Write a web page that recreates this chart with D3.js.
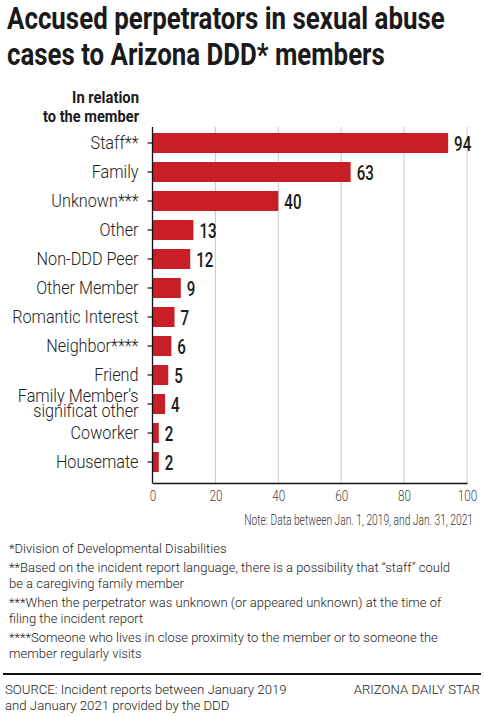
<!DOCTYPE html>
<html><head><meta charset="utf-8">
<script src="https://cdn.jsdelivr.net/npm/d3@7"></script>
<style>
html,body{margin:0;padding:0;background:#fff;}
svg{display:block;}
</style></head>
<body>
<script>
const categories = ["Staff**","Family","Unknown***","Other","Non-DDD Peer","Other Member","Romantic Interest","Neighbor****","Friend","Family Member\u2019s\nsignificat other","Coworker","Housemate"];
const values = [94,63,40,13,12,9,7,6,5,4,2,2];
const xTicks = [0,20,40,60,80,100];
const titleLines = ["Accused perpetrators in sexual abuse","cases to Arizona DDD* members"];
const axisTitle = ["In relation","to the member"];
const note = "Note: Data between Jan. 1, 2019, and Jan. 31, 2021";
const footnotes = [
  ["*Division of Developmental Disabilities"],
  ["**Based on the incident report language, there is a possibility that \u201cstaff\u201d could","be a caregiving family member"],
  ["***When the perpetrator was unknown (or appeared unknown) at the time of","filing the incident report"],
  ["****Someone who lives in close proximity to the member or to someone the","member regularly visits"]
];
const source = ["SOURCE: Incident reports between January 2019","and January 2021 provided by the DDD"];
const credit = "ARIZONA DAILY STAR";

const W = 484, H = 717;
const font = "Roboto,'Noto Sans',sans-serif";
const svg = d3.select("body").append("svg").attr("width", W).attr("height", H);

// horizontally condense a text element by k, keeping its anchor x fixed
function squeeze(t, x, k) {
  t.attr("x", x / k).attr("transform", `scale(${k},1)`);
  t.selectAll("tspan").attr("x", x / k);
}
function fitTo(t, x, width) {
  const n = t.node().getComputedTextLength();
  squeeze(t, x, width / n);
}

// Title
const titleWidths = [438, 378];
titleLines.forEach((tl, i) => {
  const t = svg.append("text").attr("y", 29 + i * 36)
    .attr("font-family", font).attr("font-weight", 700).attr("font-size", 30.5)
    .attr("fill", "#1a1a1a").text(tl);
  fitTo(t, 7, titleWidths[i]);
});
const atWidths = [67, 96];
axisTitle.forEach((tl, i) => {
  const t = svg.append("text").attr("y", 103 + i * 19).attr("text-anchor", "end")
    .attr("font-family", font).attr("font-weight", 700).attr("font-size", 17)
    .attr("fill", "#1a1a1a").text(tl);
  fitTo(t, 139, atWidths[i]);
});

const x = d3.scaleLinear().domain([0, 100]).range([152.5, 467]);
const y = d3.scaleBand().domain(categories).range([128.5, 476.5]).paddingInner(0.31).paddingOuter(0.155);

// gridlines
svg.append("g").selectAll("line").data(xTicks.filter(d => d > 0)).join("line")
  .attr("x1", d => x(d)).attr("x2", d => x(d)).attr("y1", 127).attr("y2", 483)
  .attr("stroke", "#c8c8c8").attr("stroke-width", 1);

// bars
svg.append("g").selectAll("rect").data(values).join("rect")
  .attr("x", x(0)).attr("y", (d, i) => y(categories[i]))
  .attr("width", d => x(d) - x(0)).attr("height", y.bandwidth())
  .attr("fill", "#c81e28");

// value labels
svg.append("g").selectAll("text").data(values).join("text")
  .attr("y", (d, i) => y(categories[i]) + y.bandwidth() / 2)
  .attr("dy", "0.36em")
  .attr("font-family", font).attr("font-weight", 500).attr("font-size", 21)
  .attr("fill", "#1a1a1a").text(d => d)
  .each(function(d) { squeeze(d3.select(this), x(d) + 6, 0.72); });

// y axis
const yAxis = svg.append("g").attr("transform", `translate(${x(0)},0)`)
  .call(d3.axisLeft(y).tickSize(5).tickPadding(9).tickSizeOuter(0));
yAxis.select(".domain").remove();
yAxis.selectAll(".tick line").attr("stroke", "#222").attr("stroke-width", 1.3);
yAxis.selectAll(".tick text").attr("font-family", font).attr("font-weight", 300)
  .attr("font-size", 18).attr("fill", "#222")
  .each(function(d) {
    const lines = d.split("\n");
    const t = d3.select(this).text(null).attr("dy", null);
    if (lines.length === 1) {
      t.append("tspan").attr("x", -14).attr("dy", "0.36em").text(lines[0]);
    } else {
      t.append("tspan").attr("x", -14).attr("dy", "-0.1em").text(lines[0]);
      t.append("tspan").attr("x", -14).attr("dy", "0.82em").text(lines[1]);
    }
    squeeze(t, -14, 0.9);
  });
svg.append("line").attr("x1", x(0)).attr("x2", x(0)).attr("y1", 127).attr("y2", 483.5)
  .attr("stroke", "#111").attr("stroke-width", 1.3);

// x axis
const xAxis = svg.append("g").attr("transform", `translate(0,483)`)
  .call(d3.axisBottom(x).tickValues(xTicks).tickSize(0).tickPadding(7).tickSizeOuter(0));
xAxis.select(".domain").attr("stroke", "#111").attr("stroke-width", 1.5);
xAxis.selectAll(".tick text").attr("font-family", font).attr("font-weight", 300)
  .attr("font-size", 15).attr("fill", "#444")
  .each(function() { squeeze(d3.select(this), 0, 0.78); });

const nt = svg.append("text").attr("y", 525).attr("text-anchor", "end")
  .attr("font-family", font).attr("font-weight", 300).attr("font-size", 14).attr("fill", "#333").text(note);
fitTo(nt, 473, 229);

// footnotes
let fy = 553;
footnotes.forEach((f, fi) => {
  if (fi > 0) fy += 2;
  f.forEach((l) => {
    svg.append("text").attr("x", 9).attr("y", fy)
      .attr("font-family", font).attr("font-weight", 300).attr("font-size", 13).attr("fill", "#222").text(l);
    fy += 16.5;
  });
});

svg.append("line").attr("x1", 3).attr("x2", 481).attr("y1", 674).attr("y2", 674)
  .attr("stroke", "#111").attr("stroke-width", 2);
source.forEach((s, i) => {
  svg.append("text").attr("x", 5).attr("y", 694 + i * 16)
    .attr("font-family", font).attr("font-weight", 300).attr("font-size", 13.2).attr("fill", "#222").text(s);
});
svg.append("text").attr("x", 480).attr("y", 694).attr("text-anchor", "end")
  .attr("font-family", font).attr("font-weight", 300).attr("font-size", 13.2).attr("fill", "#222").text(credit);
</script>
</body></html>
